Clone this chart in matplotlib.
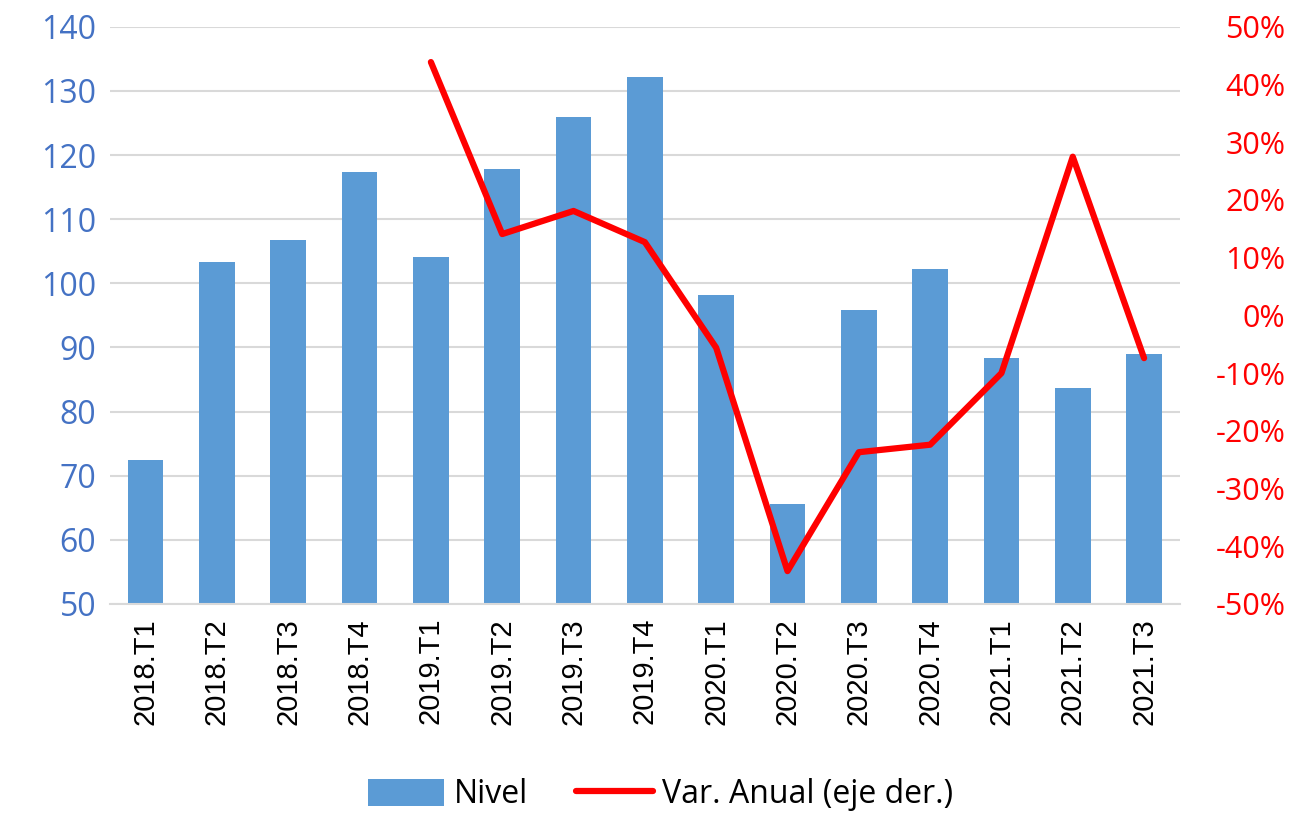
import matplotlib
matplotlib.use("Agg")
import matplotlib.pyplot as plt
import numpy as np

categorias = ['2018.T1', '2018.T2', '2018.T3', '2018.T4',
              '2019.T1', '2019.T2', '2019.T3', '2019.T4',
              '2020.T1', '2020.T2', '2020.T3', '2020.T4',
              '2021.T1', '2021.T2', '2021.T3']
nivel = [72.5, 103.4, 106.8, 117.4, 104.1, 117.9, 126.0, 132.2,
         98.2, 65.6, 95.9, 102.3, 88.4, 83.7, 89.0]
# variación anual en %, sin dato para 2018
var_anual = [np.nan, np.nan, np.nan, np.nan, 43.9, 14.1, 18.1, 12.7,
             -5.6, -44.3, -23.7, -22.4, -10.0, 27.5, -7.4]

plt.rcParams['font.family'] = ['Open Sans', 'DejaVu Sans']

fig = plt.figure(figsize=(13.03, 8.14), dpi=100)
ax = fig.add_axes([0.0844, 0.258, 0.821, 0.709])
x = np.arange(len(categorias))

barras = ax.bar(x, nivel, width=0.5, color='#5B9BD5', label='Nivel', zorder=2)
ax.set_ylim(50, 140)
ax.set_yticks(np.arange(50, 141, 10))
ax.set_xlim(-0.5, len(categorias) - 0.5)
ax.set_xticks(x)
ax.set_xticklabels(categorias, rotation=90, fontsize=21,
                   family=['Liberation Sans', 'DejaVu Sans'])
ax.tick_params(axis='y', colors='#4472C4', labelsize=23, length=0, pad=10)
ax.tick_params(axis='x', length=0, pad=10)
ax.grid(axis='y', color='#D9D9D9', linewidth=1.5, zorder=0)
for s in ['top', 'right', 'left']:
    ax.spines[s].set_visible(False)
ax.spines['bottom'].set_color('#D9D9D9')
ax.spines['bottom'].set_linewidth(1.5)

ax2 = ax.twinx()
linea, = ax2.plot(x, var_anual, color='#FF0000', linewidth=4.5,
                  solid_capstyle='round', label='Var. Anual (eje der.)')
ax2.set_ylim(-50, 50)
ax2.set_yticks(np.arange(-50, 51, 10))
ax2.set_yticklabels([f'{v}%' for v in range(-50, 51, 10)], ha='right')
ax2.tick_params(axis='y', colors='#FF0000', labelsize=22, length=0, pad=76)
for s in ['top', 'right', 'left', 'bottom']:
    ax2.spines[s].set_visible(False)

fig.legend([barras, linea], ['Nivel', 'Var. Anual (eje der.)'],
           loc='lower center', bbox_to_anchor=(0.507, -0.032), ncol=2,
           frameon=False, fontsize=23, handlelength=2.4, handleheight=0.9,
           handletextpad=0.3, columnspacing=1.5)

fig.savefig('out.png', dpi=100)
